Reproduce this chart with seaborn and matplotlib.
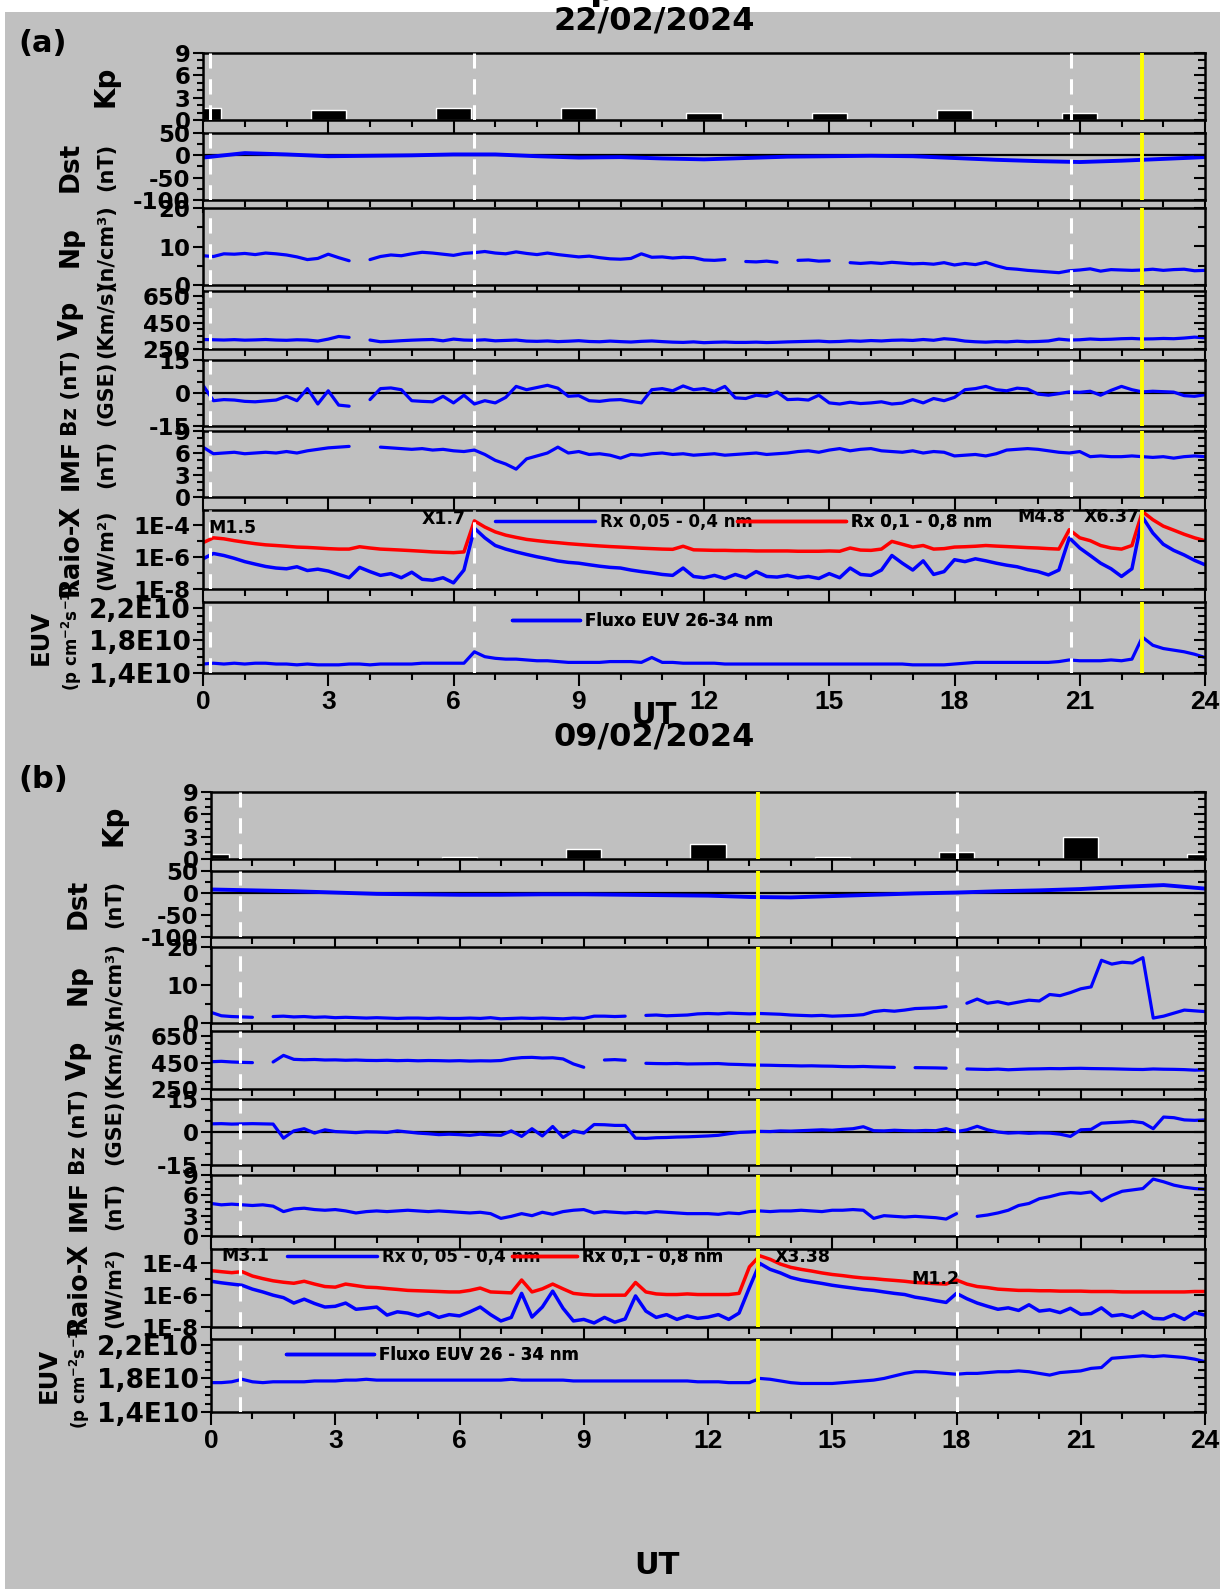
import numpy as np
import pandas as pd
import seaborn as sns
import matplotlib.pyplot as plt
from matplotlib.lines import Line2D
from matplotlib.patches import Rectangle
from matplotlib.ticker import FixedLocator, FixedFormatter, MultipleLocator, NullFormatter

nan = np.nan

# ---------------- data ----------------
# quarter-hour grid (UT hours) for the solar wind / x-ray / EUV traces
t_q = np.arange(0, 24.01, 0.25)
t_h = np.arange(0, 25)

# (a) 22/02/2024
kp_t_a = [0, 3, 6, 9, 12, 15, 18, 21]
kp_a = [1.67, 1.33, 1.67, 1.67, 1.0, 1.0, 1.33, 1.0]
dst_a = [-5, 5, 2, -2, -1, 0, 2, 2, -2, -5, -4, -7, -9, -6, -3, -2, -1, -2, -6, -10, -13, -15, -12, -8, -4]
np_a = [
    7.6, 7.4, 8.1, 8.0, 8.2, 7.9, 8.3, 8.1,
    7.8, 7.3, 6.6, 6.9, 8.0, 7.1, 6.3, nan,
    6.6, 7.4, 7.8, 7.6, 8.1, 8.5, 8.3, 8.0,
    7.7, 8.2, 8.4, 8.7, 8.3, 8.1, 8.6, 8.2,
    7.9, 8.3, 7.9, 7.6, 7.3, 7.5, 7.1, 6.8,
    6.7, 6.9, 8.1, 7.2, 7.3, 7.0, 7.2, 7.1,
    6.5, 6.4, 6.6, nan, 6.1, 6.0, 6.2, 5.9,
    nan, 6.4, 6.5, 6.2, 6.3, nan, 5.8, 5.6,
    5.8, 5.6, 5.9, 5.7, 5.5, 5.6, 5.4, 5.8,
    5.2, 5.6, 5.3, 5.9, 5.0, 4.3, 4.1, 3.8,
    3.6, 3.4, 3.2, 3.7, 3.9, 4.2, 3.6, 4.0,
    3.9, 3.8, 3.9, 4.1, 3.8, 4.0, 4.1, 3.7,
    3.8]
vp_a = [
    322, 320, 318, 321, 317, 319, 322, 318,
    316, 320, 318, 310, 325, 345, 338, nan,
    318, 305, 308, 313, 317, 320, 322, 312,
    325, 318, 316, 320, 312, 315, 318, 310,
    308, 311, 306, 309, 313, 307, 305, 310,
    306, 303, 308, 311, 306, 302, 300, 304,
    298, 301, 303, 300, 300, 302, 299, 301,
    304, 306, 308, 310, 305, 307, 312, 309,
    314, 311, 316, 318, 315, 322, 316, 328,
    322, 310, 305, 302, 306, 304, 309, 305,
    307, 311, 325, 318, 320, 326, 322, 324,
    328, 330, 326, 327, 330, 328, 333, 340,
    335]
bz_a = [
    3.5, -3.5, -3.0, -3.2, -3.8, -4.0, -3.6, -3.2,
    -1.5, -3.5, 2.0, -5.0, 1.0, -5.5, -6.0, nan,
    -3.0, 2.0, 2.3, 1.5, -3.5, -3.8, -4.0, -1.5,
    -4.5, -1.0, -5.0, -3.5, -4.5, -2.0, 3.0, 1.5,
    2.5, 3.5, 2.2, -1.5, -1.2, -3.5, -3.8, -3.2,
    -3.0, -3.8, -4.5, 1.5, 2.0, 1.0, 3.2, 1.5,
    2.0, 0.8, 3.0, -2.2, -2.5, -1.0, -1.5, 0.5,
    -3.0, -2.8, -3.2, -1.0, -4.5, -5.0, -4.2, -4.8,
    -4.5, -4.0, -5.0, -4.6, -3.0, -4.5, -2.5, -3.5,
    -2.0, 1.5, 2.0, 3.0, 1.5, 1.0, 2.2, 1.8,
    -0.5, -1.0, -0.3, 0.5, 0.3, 0.8, -1.0, 1.2,
    3.0, 1.5, 0.5, 0.8, 0.6, 0.4, -1.2, -1.5,
    -0.8]
imf_a = [
    6.8, 5.9, 6.0, 6.1, 5.9, 6.0, 6.1, 6.0,
    6.2, 6.0, 6.3, 6.5, 6.7, 6.8, 6.9, nan,
    nan, 6.8, 6.7, 6.6, 6.5, 6.6, 6.4, 6.5,
    6.3, 6.2, 6.4, 5.8, 5.0, 4.5, 3.8, 5.2,
    5.6, 6.0, 6.8, 6.0, 6.2, 5.8, 5.9, 5.7,
    5.3, 5.8, 5.7, 5.9, 6.0, 5.8, 5.9, 5.7,
    5.8, 5.9, 5.7, 5.8, 5.9, 6.0, 5.8, 5.9,
    6.0, 6.2, 6.3, 6.1, 6.4, 6.6, 6.3, 6.5,
    6.6, 6.3, 6.2, 6.1, 6.3, 6.0, 6.2, 6.1,
    5.6, 5.7, 5.8, 5.6, 5.9, 6.4, 6.5, 6.6,
    6.5, 6.3, 6.1, 6.0, 6.2, 5.5, 5.6, 5.5,
    5.5, 5.6, 5.5, 5.4, 5.5, 5.3, 5.5, 5.6,
    5.5]
rx_short_a = [
    7.5e-7, 1.6e-6, 1.2e-6, 8.0e-7, 5.0e-7, 3.5e-7, 2.5e-7, 2.0e-7,
    1.8e-7, 2.4e-7, 1.4e-7, 1.7e-7, 1.3e-7, 8.0e-8, 5.0e-8, 2.2e-7,
    1.2e-7, 7.0e-8, 9.0e-8, 5.0e-8, 1.1e-7, 4.0e-8, 3.5e-8, 5.0e-8,
    2.4e-8, 1.5e-7, 6.0e-5, 1.5e-5, 5.0e-6, 3.0e-6, 2.0e-6, 1.4e-6,
    1.0e-6, 7.5e-7, 5.5e-7, 4.5e-7, 4.0e-7, 3.2e-7, 2.6e-7, 2.2e-7,
    2.0e-7, 1.5e-7, 1.2e-7, 1.0e-7, 8.0e-8, 7.0e-8, 2.0e-7, 6.0e-8,
    5.0e-8, 7.0e-8, 4.5e-8, 8.0e-8, 5.0e-8, 1.2e-7, 6.0e-8, 5.5e-8,
    7.0e-8, 5.0e-8, 6.0e-8, 4.5e-8, 9.0e-8, 5.0e-8, 2.0e-7, 8.0e-8,
    7.0e-8, 1.5e-7, 1.2e-6, 4.0e-7, 1.5e-7, 5.6e-7, 8.0e-8, 1.2e-7,
    6.6e-7, 5.0e-7, 7.5e-7, 5.6e-7, 4.0e-7, 3.0e-7, 2.4e-7, 1.6e-7,
    1.2e-7, 7.5e-8, 1.5e-7, 1.5e-5, 3.5e-6, 1.2e-6, 4.0e-7, 1.8e-7,
    6.0e-8, 1.8e-7, 3.0e-4, 3.0e-5, 6.0e-6, 2.5e-6, 1.3e-6, 6.0e-7,
    3.2e-7]
rx_long_a = [
    7.5e-6, 1.5e-5, 1.3e-5, 1.0e-5, 8.0e-6, 6.5e-6, 5.5e-6, 5.0e-6,
    4.5e-6, 4.0e-6, 3.8e-6, 3.5e-6, 3.2e-6, 3.0e-6, 3.0e-6, 4.2e-6,
    3.5e-6, 3.0e-6, 2.8e-6, 2.6e-6, 2.4e-6, 2.2e-6, 2.0e-6, 1.9e-6,
    1.8e-6, 2.0e-6, 1.7e-4, 7.0e-5, 3.5e-5, 2.2e-5, 1.6e-5, 1.2e-5,
    1.0e-5, 8.5e-6, 7.5e-6, 6.5e-6, 5.8e-6, 5.2e-6, 4.7e-6, 4.3e-6,
    4.0e-6, 3.7e-6, 3.4e-6, 3.2e-6, 3.0e-6, 2.9e-6, 4.5e-6, 2.7e-6,
    2.6e-6, 2.5e-6, 2.5e-6, 2.4e-6, 2.4e-6, 2.3e-6, 2.3e-6, 2.3e-6,
    2.3e-6, 2.2e-6, 2.2e-6, 2.2e-6, 2.3e-6, 2.2e-6, 3.5e-6, 2.6e-6,
    2.5e-6, 3.0e-6, 9.0e-6, 6.0e-6, 4.0e-6, 5.0e-6, 3.0e-6, 3.2e-6,
    4.0e-6, 4.2e-6, 4.5e-6, 5.0e-6, 4.6e-6, 4.3e-6, 4.0e-6, 3.7e-6,
    3.5e-6, 3.2e-6, 3.0e-6, 4.8e-5, 1.5e-5, 1.0e-5, 5.0e-6, 3.5e-6,
    3.0e-6, 5.0e-6, 6.4e-4, 2.0e-4, 8.0e-5, 4.5e-5, 2.5e-5, 1.5e-5,
    1.0e-5]
euv_a = [  # x 1E10 photons cm-2 s-1
    1.51, 1.52, 1.51, 1.52, 1.51, 1.52, 1.52, 1.51,
    1.51, 1.50, 1.51, 1.50, 1.50, 1.50, 1.51, 1.51,
    1.50, 1.51, 1.51, 1.51, 1.51, 1.52, 1.52, 1.52,
    1.52, 1.52, 1.66, 1.60, 1.58, 1.57, 1.57, 1.56,
    1.55, 1.55, 1.54, 1.53, 1.53, 1.53, 1.53, 1.54,
    1.54, 1.54, 1.53, 1.59, 1.53, 1.53, 1.52, 1.52,
    1.52, 1.52, 1.51, 1.51, 1.51, 1.51, 1.51, 1.51,
    1.51, 1.51, 1.51, 1.51, 1.51, 1.51, 1.51, 1.51,
    1.51, 1.51, 1.51, 1.51, 1.50, 1.50, 1.50, 1.50,
    1.51, 1.52, 1.53, 1.53, 1.53, 1.53, 1.53, 1.53,
    1.53, 1.53, 1.54, 1.56, 1.55, 1.55, 1.55, 1.56,
    1.55, 1.57, 1.84, 1.74, 1.70, 1.68, 1.66, 1.63,
    1.59]
dashed_a = [0.17, 6.5, 20.8]
yellow_a = [22.5]

# (b) 09/02/2024
kp_t_b = [0, 3, 6, 9, 12, 15, 18, 21, 24]
kp_b = [0.67, 0, 0.33, 1.33, 2.0, 0.33, 1.0, 3.0, 0.67]
dst_b = [8, 6, 4, 1, -2, -3, -4, -4, -3, -3, -4, -5, -6, -9, -10, -7, -4, -1, 1, 4, 6, 9, 14, 18, 10]
np_b = [
    2.8, 1.9, 1.7, 1.6, 1.5, nan, 1.7, 1.8,
    1.6, 1.7, 1.5, 1.6, 1.4, 1.5, 1.4, 1.3,
    1.4, 1.3, 1.2, 1.3, 1.3, 1.2, 1.3, 1.2,
    1.2, 1.3, 1.2, 1.4, 1.1, 1.2, 1.3, 1.2,
    1.3, 1.2, 1.1, 1.3, 1.2, 1.8, 1.8, 1.7,
    1.8, nan, 2.0, 2.1, 1.9, 2.0, 2.1, 2.4,
    2.5, 2.4, 2.6, 2.5, 2.4, 2.5, 2.4, 2.3,
    2.1, 2.0, 1.9, 2.0, 1.8, 1.9, 2.0, 2.2,
    3.0, 3.3, 3.1, 3.4, 3.8, 3.9, 4.0, 4.3,
    nan, 5.2, 6.3, 5.2, 5.6, 5.0, 5.5, 6.0,
    5.8, 7.5, 7.2, 8.0, 9.0, 9.5, 16.5, 15.5,
    16.0, 15.8, 17.2, 1.3, 1.8, 2.6, 3.4, 3.2,
    3.0]
vp_b = [
    457, 460, 455, 452, 450, nan, 455, 505,
    475, 472, 474, 470, 471, 468, 470, 467,
    466, 468, 465, 467, 464, 466, 465, 463,
    465, 462, 464, 463, 466, 480, 488, 490,
    485, 487, 478, 440, 415, nan, 470, 473,
    468, nan, 445, 443, 442, 444, 440, 441,
    442, 443, 438, 436, 433, 431, 430, 428,
    427, 425, 426, 424, 423, 420, 419, 421,
    418, 416, 414, nan, 412, 411, 410, 408,
    nan, 402, 400, 398, 401, 396, 399, 402,
    403, 405, 404, 406, 407, 405, 404, 403,
    401, 399, 398, 402, 400, 399, 397, 393,
    395]
bz_b = [
    3.7, 3.8, 3.6, 3.7, 3.8, 3.7, 3.6, -2.8,
    0.5, 1.5, -0.5, 1.0, 0.2, 0.0, -0.3, 0.1,
    0.0, -0.2, 0.5, 0.0, -0.5, -0.8, -1.2, -1.0,
    -1.2, -1.5, -1.0, -1.3, -1.5, 0.5, -2.0, 1.5,
    -1.8, 2.5, -2.5, 0.5, -0.5, 3.4, 3.3, 3.0,
    3.0, -2.8, -2.9, -2.6, -2.5, -2.3, -2.2, -2.0,
    -1.8, -1.5, -0.8, -0.2, 0.0, 0.3, 0.2, 0.5,
    0.4, 0.6, 0.8, 1.0, 0.8, 1.2, 1.5, 2.4,
    0.6, 0.5, 0.8, 0.6, 0.5, 0.7, 0.6, 1.5,
    0.2, 1.0, 2.6, 1.0, 0.0, -0.5, -0.3, -0.6,
    -0.4, -0.5, -1.0, -2.0, 1.0, 1.2, 4.0, 4.3,
    4.5, 4.8, 4.2, 1.5, 6.8, 6.5, 5.5, 5.3,
    5.5]
imf_b = [
    4.8, 4.6, 4.7, 4.6, 4.5, 4.6, 4.4, 3.6,
    4.0, 4.1, 3.9, 3.8, 3.9, 3.7, 3.4, 3.6,
    3.7, 3.6, 3.7, 3.8, 3.7, 3.6, 3.7, 3.6,
    3.5, 3.4, 3.5, 3.3, 2.6, 2.9, 3.3, 3.0,
    3.5, 3.2, 3.6, 3.8, 3.9, 3.4, 3.6, 3.5,
    3.4, 3.5, 3.4, 3.6, 3.5, 3.4, 3.3, 3.3,
    3.3, 3.2, 3.4, 3.3, 3.6, 3.7, 3.6, 3.7,
    3.7, 3.8, 3.7, 3.6, 3.8, 3.8, 3.9, 3.8,
    2.6, 3.0, 2.9, 2.8, 2.9, 2.8, 2.7, 2.5,
    3.3, nan, 2.9, 3.1, 3.4, 3.8, 4.5, 4.8,
    5.5, 5.8, 6.2, 6.4, 6.3, 6.5, 5.2, 6.0,
    6.6, 6.8, 7.0, 8.4, 8.0, 7.5, 7.2, 7.0,
    6.9]
rx_short_b = [
    7.5e-6, 6.0e-6, 5.0e-6, 4.2e-6, 2.4e-6, 1.6e-6, 1.0e-6, 7.0e-7,
    3.2e-7, 5.6e-7, 3.0e-7, 1.8e-7, 2.0e-7, 3.2e-7, 1.3e-7, 1.5e-7,
    1.8e-7, 5.6e-8, 9.0e-8, 7.5e-8, 5.0e-8, 8.0e-8, 4.0e-8, 6.0e-8,
    5.0e-8, 9.0e-8, 1.8e-7, 6.0e-8, 2.4e-8, 4.0e-8, 1.3e-6, 4.2e-8,
    1.8e-7, 1.8e-6, 1.5e-7, 2.4e-8, 3.0e-8, 1.8e-8, 4.0e-8, 2.0e-8,
    3.2e-8, 9.0e-7, 1.0e-7, 4.0e-8, 6.0e-8, 3.0e-8, 5.0e-8, 3.5e-8,
    4.2e-8, 6.0e-8, 3.0e-8, 7.5e-8, 3.0e-6, 1.0e-4, 4.2e-5, 2.5e-5,
    1.3e-5, 9.0e-6, 7.0e-6, 5.5e-6, 4.2e-6, 3.4e-6, 2.8e-6, 2.3e-6,
    2.0e-6, 1.6e-6, 1.3e-6, 1.1e-6, 7.5e-7, 6.0e-7, 4.5e-7, 3.5e-7,
    1.3e-6, 6.0e-7, 3.2e-7, 2.0e-7, 1.3e-7, 1.6e-7, 1.1e-7, 2.5e-7,
    1.0e-7, 1.2e-7, 8.0e-8, 1.5e-7, 6.3e-8, 7.0e-8, 1.6e-7, 5.0e-8,
    6.0e-8, 4.0e-8, 9.0e-8, 3.5e-8, 3.2e-8, 6.0e-8, 3.0e-8, 8.0e-8,
    5.6e-8]
rx_long_b = [
    3.5e-5, 3.0e-5, 2.6e-5, 3.0e-5, 1.6e-5, 1.1e-5, 8.0e-6, 6.5e-6,
    5.6e-6, 7.5e-6, 5.0e-6, 3.5e-6, 3.2e-6, 5.0e-6, 4.0e-6, 3.2e-6,
    3.0e-6, 2.6e-6, 2.3e-6, 2.0e-6, 1.9e-6, 1.8e-6, 1.7e-6, 1.6e-6,
    1.6e-6, 2.0e-6, 2.8e-6, 1.6e-6, 1.5e-6, 1.4e-6, 9.0e-6, 1.6e-6,
    2.5e-6, 5.0e-6, 2.5e-6, 1.3e-6, 1.1e-6, 1.0e-6, 1.0e-6, 1.0e-6,
    1.0e-6, 6.3e-6, 1.6e-6, 1.2e-6, 1.1e-6, 1.1e-6, 1.2e-6, 1.1e-6,
    1.1e-6, 1.1e-6, 1.1e-6, 1.3e-6, 6.0e-5, 3.0e-4, 1.8e-4, 9.0e-5,
    5.6e-5, 4.2e-5, 3.3e-5, 2.5e-5, 2.0e-5, 1.7e-5, 1.4e-5, 1.2e-5,
    1.1e-5, 9.5e-6, 8.5e-6, 7.5e-6, 6.3e-6, 5.8e-6, 5.3e-6, 5.0e-6,
    9.0e-6, 5.0e-6, 3.5e-6, 3.0e-6, 2.4e-6, 2.2e-6, 2.0e-6, 2.0e-6,
    1.9e-6, 1.9e-6, 1.8e-6, 1.8e-6, 1.8e-6, 1.7e-6, 1.7e-6, 1.7e-6,
    1.6e-6, 1.6e-6, 1.6e-6, 1.6e-6, 1.6e-6, 1.6e-6, 1.6e-6, 1.7e-6,
    1.7e-6]
euv_b = [
    1.75, 1.75, 1.76, 1.79, 1.76, 1.75, 1.76, 1.76,
    1.76, 1.76, 1.77, 1.77, 1.77, 1.78, 1.78, 1.79,
    1.78, 1.78, 1.78, 1.78, 1.78, 1.78, 1.78, 1.78,
    1.78, 1.78, 1.78, 1.78, 1.78, 1.79, 1.78, 1.78,
    1.78, 1.78, 1.78, 1.77, 1.77, 1.77, 1.77, 1.77,
    1.77, 1.77, 1.77, 1.77, 1.77, 1.77, 1.77, 1.76,
    1.76, 1.76, 1.75, 1.75, 1.75, 1.80, 1.79, 1.77,
    1.75, 1.74, 1.74, 1.74, 1.74, 1.75, 1.76, 1.77,
    1.78, 1.80, 1.83, 1.86, 1.88, 1.88, 1.87, 1.86,
    1.85, 1.86, 1.86, 1.87, 1.88, 1.88, 1.89, 1.88,
    1.86, 1.84, 1.87, 1.88, 1.89, 1.92, 1.93, 2.04,
    2.05, 2.06, 2.07, 2.06, 2.07, 2.06, 2.05, 2.03,
    2.00]
dashed_b = [0.7, 18.0]
yellow_b = [13.2]

# ---------------- style ----------------
sns.set_theme(style='white')
plt.rcParams['font.family'] = ['DejaVu Sans']
plt.rcParams['font.weight'] = 'bold'
plt.rcParams['text.color'] = 'black'
plt.rcParams['xtick.color'] = 'black'
plt.rcParams['ytick.color'] = 'black'
plt.rcParams['axes.labelcolor'] = 'black'

W, H = 1220, 1589
GRAY = '#c0c0c0'
BLUE = '#0000ff'
RED = '#ff0000'

fig = plt.figure(figsize=(W / 100, H / 100), dpi=100)
fig.patch.set_facecolor('white')
fig.add_artist(Rectangle((5 / W, 0), 1, 1 - 12 / H, transform=fig.transFigure,
                         facecolor=GRAY, edgecolor='none', zorder=-10))
fig.text(603 / W, 1.0, 'p', fontsize=26, ha='center', va='baseline')


def trace(ax, t, v, color, lw=2.3):
    # split at the gaps so seaborn does not bridge them
    df = pd.DataFrame({'t': t, 'v': v})
    df['seg'] = df['v'].isna().cumsum()
    df = df.dropna()
    sns.lineplot(data=df, x='t', y='v', units='seg', estimator=None, sort=False,
                 color=color, lw=lw, ax=ax, legend=False)
    ax.set_xlabel('')
    ax.set_ylabel('')


def set_y(ax, lim, major, labels, minor=None, log=False, size=16.5):
    twin = ax.twinx()
    for a in (ax, twin):
        if log:
            a.set_yscale('log')
        a.set_ylim(*lim)
        a.yaxis.set_major_locator(FixedLocator(major))
        if log:
            a.yaxis.set_minor_locator(FixedLocator(minor))
        else:
            a.yaxis.set_minor_locator(MultipleLocator(minor))
        a.yaxis.set_minor_formatter(NullFormatter())
    ax.yaxis.set_major_formatter(FixedFormatter(labels))
    twin.yaxis.set_major_formatter(NullFormatter())
    ax.tick_params(axis='y', which='both', direction='out', left=True, right=False,
                   width=1.5, color='black', labelsize=size, pad=2)
    ax.tick_params(axis='y', which='major', length=7)
    ax.tick_params(axis='y', which='minor', length=4)
    twin.tick_params(axis='y', which='both', direction='in', right=True, left=False,
                     width=1.5, color='black', labelright=False)
    twin.tick_params(axis='y', which='major', length=8)
    twin.tick_params(axis='y', which='minor', length=5)
    for s in twin.spines.values():
        s.set_visible(False)


def legend_item(ax, color, label, x, y, hlen):
    h = [Line2D([], [], color=color, lw=2.5)]
    leg = ax.legend(h, [label], loc='center left', bbox_to_anchor=(x / 24, y),
                    frameon=False, handlelength=hlen, handletextpad=0.3,
                    borderpad=0, borderaxespad=0, prop={'weight': 'bold', 'size': 12})
    ax.add_artist(leg)


NAMES = [('Kp', None), ('Dst', '(nT)'), ('Np', '(n/cm³)'), ('Vp', '(Km/s)'),
         ('Bz (nT)', '(GSE)'), ('IMF', '(nT)'), ('Raio-X', '(W/m²)')]
NAME_SIZE = [20, 19, 19, 19, 15.5, 18, 18.5]


def draw_panel(p):
    left, right = p['left'], p['right']
    axes = []
    for top, bottom in p['rows']:
        ax = fig.add_axes([left / W, 1 - bottom / H, (right - left) / W, (bottom - top) / H])
        ax.set_facecolor(GRAY)
        for s in ax.spines.values():
            s.set_visible(True)
            s.set_color('black')
            s.set_linewidth(1.8)
        axes.append(ax)
    kp_ax, dst_ax, np_ax, vp_ax, bz_ax, imf_ax, rx_ax, euv_ax = axes

    kp_ax.bar(p['kp_t'], p['kp'], width=0.85, color='black', zorder=2)
    trace(dst_ax, t_h, p['dst'], BLUE, lw=2.8)
    dst_ax.axhline(0, color='black', lw=1.6, zorder=1.5)
    trace(np_ax, t_q, p['np'], BLUE)
    trace(vp_ax, t_q, p['vp'], BLUE)
    trace(bz_ax, t_q, p['bz'], BLUE)
    bz_ax.axhline(0, color='black', lw=1.6, zorder=1.5)
    trace(imf_ax, t_q, p['imf'], BLUE)
    rx_ax.set_yscale('log')
    trace(rx_ax, t_q, p['rxl'], RED, lw=2.5)
    trace(rx_ax, t_q, p['rxs'], BLUE, lw=2.5)
    trace(euv_ax, t_q, p['euv'], BLUE, lw=2.3)

    set_y(kp_ax, (0, 9), [0, 3, 6, 9], ['0', '3', '6', '9'], minor=1)
    set_y(dst_ax, (-100, 50), [-100, -50, 0, 50], ['-100', '-50', '0', '50'], minor=25)
    set_y(np_ax, (0, 20), [0, 10, 20], ['0', '10', '20'], minor=5)
    set_y(vp_ax, (250, 690), [250, 450, 650], ['250', '450', '650'], minor=50)
    set_y(bz_ax, (-15, 15), [-15, 0, 15], ['-15', '0', '15'], minor=5)
    set_y(imf_ax, (0, 9), [0, 3, 6, 9], ['0', '3', '6', '9'], minor=1)
    set_y(rx_ax, (1e-8, 8e-4), [1e-8, 1e-6, 1e-4], ['1E-8', '1E-6', '1E-4'],
          minor=[1e-7, 1e-5, 1e-3], log=True)
    set_y(euv_ax, (1.4, 2.27), [1.4, 1.8, 2.2], ['1,4E10', '1,8E10', '2,2E10'],
          minor=0.1, size=19)

    for i, ax in enumerate(axes):
        ax.set_xlim(0, 24)
        ax.xaxis.set_major_locator(MultipleLocator(3))
        ax.xaxis.set_minor_locator(MultipleLocator(1))
        ax.tick_params(axis='x', which='both', direction='out', bottom=True, top=False,
                       width=1.5, color='black', labelbottom=(i == 7), labelsize=19,
                       labelfontfamily='Liberation Sans', pad=3)
        ax.tick_params(axis='x', which='major', length=9)
        ax.tick_params(axis='x', which='minor', length=5)
        for x in p['dashed']:
            ax.axvline(x, color='white', lw=2.2, ls=(0, (5, 3.5)), zorder=3)
        for x in p['yellow']:
            ax.axvline(x, color='#ffff00', lw=2.8, zorder=3)

    # side labels
    c1, c2 = p['lab_x']
    for (name, unit), size, (top, bottom) in zip(NAMES, NAME_SIZE, p['rows']):
        yc = 1 - (top + bottom) / 2 / H
        if unit is None:
            fig.text(c2 / W, yc, name, rotation=90, ha='center', va='center', fontsize=size)
        else:
            fig.text(c1 / W, yc, name, rotation=90, ha='center', va='center', fontsize=size)
            fig.text(c2 / W, yc, unit, rotation=90, ha='center', va='center', fontsize=15)
    top, bottom = p['rows'][7]
    yc = 1 - (top + bottom) / 2 / H
    fig.text((c1 - 30) / W, yc, 'EUV', rotation=90, ha='center', va='center', fontsize=17.5)
    fig.text((c1 + 1) / W, yc, r'(p cm$^{\mathbf{-2}}$s$^{\mathbf{-1}}$)',
             rotation=90, ha='center', va='center', fontsize=12)

    # legends and flare classes
    for color, label, x, y, hlen in p['rx_leg']:
        legend_item(rx_ax, color, label, x, y, hlen)
    for color, label, x, y, hlen in p['euv_leg']:
        legend_item(euv_ax, color, label, x, y, hlen)
    for txt, x, y, ha in p['flares']:
        rx_ax.text(x, y, txt, transform=rx_ax.get_xaxis_transform(), ha=ha, va='center',
                   fontsize=12.5, zorder=4)

    fig.text(p['title_x'] / W, 1 - p['title_y'] / H, p['title'], ha='center', va='center',
             fontsize=23)
    fig.text(43 / W, 1 - p['tag_y'] / H, p['tag'], ha='center', va='center', fontsize=22)
    fig.text(p['ut_x'] / W, 1 - p['ut_y'] / H, 'UT', ha='center', va='center', fontsize=22)


panel_a = dict(left=203, right=1205, lab_x=(71, 106),
               rows=[(53, 120), (133, 200), (208, 285), (291, 349),
                     (360, 426), (431, 497), (510, 589), (602, 673)],
               kp_t=kp_t_a, kp=kp_a, dst=dst_a, np=np_a, vp=vp_a, bz=bz_a, imf=imf_a,
               rxs=rx_short_a, rxl=rx_long_a, euv=euv_a,
               dashed=dashed_a, yellow=yellow_a,
               rx_leg=[(BLUE, 'Rx 0,05 - 0,4 nm', 7.0, 0.85, 6.0),
                       (RED, 'Rx 0,1 - 0,8 nm', 12.8, 0.85, 6.5)],
               euv_leg=[(BLUE, 'Fluxo EUV 26-34 nm', 7.4, 0.73, 4.1)],
               flares=[('M1.5', 0.12, 0.77, 'left'), ('X1.7', 6.3, 0.88, 'right'),
                       ('M4.8', 19.5, 0.91, 'left'), ('X6.37', 21.1, 0.91, 'left')],
               title='22/02/2024', title_x=654, title_y=21, tag='(a)', tag_y=43,
               ut_x=654, ut_y=716)
panel_b = dict(left=211, right=1205, lab_x=(79, 114),
               rows=[(792, 859), (871, 937), (947, 1023), (1031, 1089),
                     (1099, 1165), (1175, 1236), (1249, 1327), (1339, 1412)],
               kp_t=kp_t_b, kp=kp_b, dst=dst_b, np=np_b, vp=vp_b, bz=bz_b, imf=imf_b,
               rxs=rx_short_b, rxl=rx_long_b, euv=euv_b,
               dashed=dashed_b, yellow=yellow_b,
               rx_leg=[(BLUE, 'Rx 0, 05 - 0,4 nm', 1.83, 0.9, 5.4),
                       (RED, 'Rx 0,1 - 0,8 nm', 7.27, 0.9, 3.9)],
               euv_leg=[(BLUE, 'Fluxo EUV 26 - 34 nm', 1.8, 0.78, 5.3)],
               flares=[('M3.1', 0.24, 0.91, 'left'), ('X3.38', 13.6, 0.9, 'left'),
                       ('M1.2', 16.9, 0.62, 'left')],
               title='09/02/2024', title_x=654, title_y=737, tag='(b)', tag_y=780,
               ut_x=657, ut_y=1566)

draw_panel(panel_a)
draw_panel(panel_b)

fig.savefig('out.png', dpi=100, facecolor=fig.get_facecolor())
